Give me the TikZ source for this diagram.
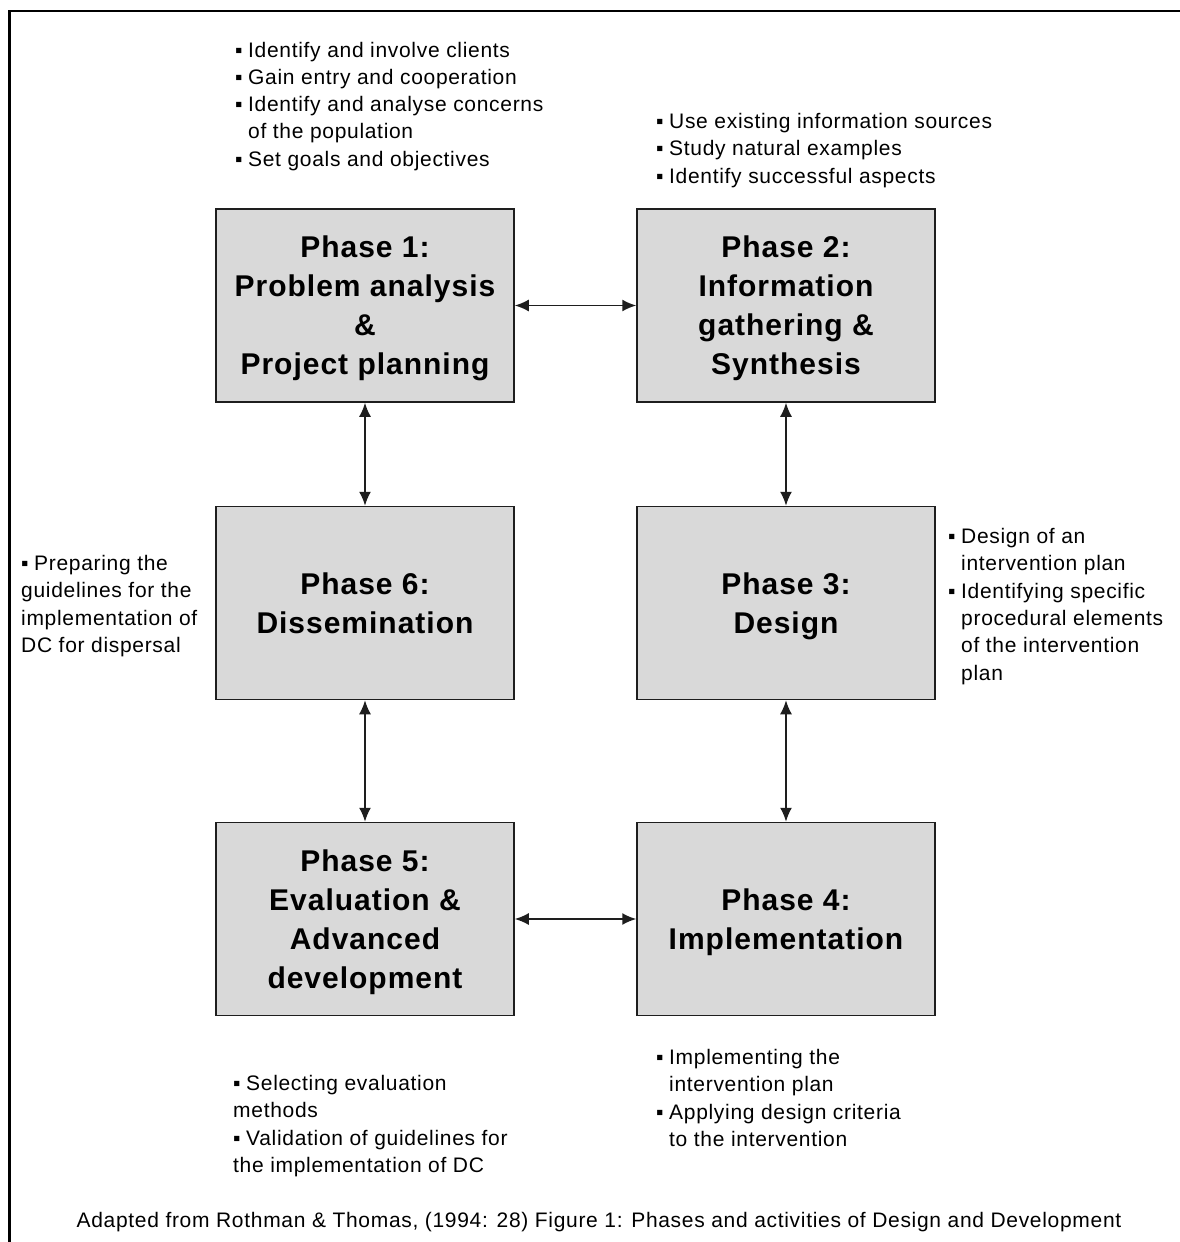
\documentclass[tikz,border=0pt]{standalone}
\usepackage{fontspec}
\setmainfont{Liberation Sans}[LetterSpace=3.3]
\usetikzlibrary{arrows.meta}
\definecolor{boxfill}{RGB}{217,217,217}
\definecolor{inkline}{RGB}{30,30,30}
\newcommand\bul{\makebox[13pt][l]{▪}}
\newcommand\notefont{\fontsize{21}{27.3}\selectfont}
\newcommand\phasefont{\fontsize{30}{39}\selectfont\bfseries}

\begin{document}
\begin{tikzpicture}[x=1pt,y=-1pt,
  phase/.style={draw=inkline, line width=1.5pt, fill=boxfill,
    minimum width=298pt, minimum height=193pt, align=center,
    font=\phasefont, inner sep=0pt, text depth=0pt},
  link/.style={{Latex[length=14pt,width=12pt]}-{Latex[length=14pt,width=12pt]},
    line width=1.7pt, draw=inkline},
  note/.style={anchor=base west, inner sep=0pt, font=\notefont, text=black}
]
\useasboundingbox (0,0) rectangle (1180,1242);
\fill[white] (0,0) rectangle (1180,1242);

% frame on the left and top
\draw[line width=2.5pt] (9.5,1242) -- (9.5,11) -- (1180,11);

% the six phases
\node[phase] (p1) at (365,305.5) {Phase 1:\\Problem analysis\\\&\\Project planning};
\node[phase] (p2) at (786,305.5) {Phase 2:\\Information\\gathering \&\\Synthesis};
\node[phase] (p6) at (365,603) {Phase 6:\\Dissemination};
\node[phase] (p3) at (786,603) {Phase 3:\\Design};
\node[phase] (p5) at (365,919) {Phase 5:\\Evaluation \&\\Advanced\\development};
\node[phase] (p4) at (786,919) {Phase 4:\\Implementation};

% links between phases
\draw[link] (p1.east) -- (p2.west);
\draw[link] (p1.south) -- (p6.north);
\draw[link] (p2.south) -- (p3.north);
\draw[link] (p6.south) -- (p5.north);
\draw[link] (p3.south) -- (p4.north);
\draw[link] (p5.east) -- (p4.west);

% activities of each phase
\node[note] (a1) at (235,57) {\begin{tabular}[t]{@{}l@{}l@{}}
  \bul&Identify and involve clients\\
  \bul&Gain entry and cooperation\\
  \bul&Identify and analyse concerns\\
  &of the population\\
  \bul&Set goals and objectives\end{tabular}};

\node[note] (a2) at (656,128.5) {\begin{tabular}[t]{@{}l@{}l@{}}
  \bul&Use existing information sources\\
  \bul&Study natural examples\\
  \bul&Identify successful aspects\end{tabular}};

\node[note] (a3) at (948,543.5) {\begin{tabular}[t]{@{}l@{}l@{}}
  \bul&Design of an\\
  &intervention plan\\
  \bul&Identifying specific\\
  &procedural elements\\
  &of the intervention\\
  &plan\end{tabular}};

\node[note] (a6) at (21,570.5) {\begin{tabular}[t]{@{}l@{}}
  \bul Preparing the\\
  guidelines for the\\
  implementation of\\
  DC for dispersal\end{tabular}};

\node[note] (a5) at (233,1090.5) {\begin{tabular}[t]{@{}l@{}}
  \bul Selecting evaluation\\
  methods\\
  \bul Validation of guidelines for\\
  the implementation of DC\end{tabular}};

\node[note] (a4) at (656,1064.5) {\begin{tabular}[t]{@{}l@{}l@{}}
  \bul&Implementing the\\
  &intervention plan\\
  \bul&Applying design criteria\\
  &to the intervention\end{tabular}};

% source line
\node[note, anchor=base] (src) at (599,1227.5)
  {Adapted from Rothman \& Thomas, (1994: 28) Figure 1: Phases and activities of Design and Development};
\end{tikzpicture}
\end{document}
